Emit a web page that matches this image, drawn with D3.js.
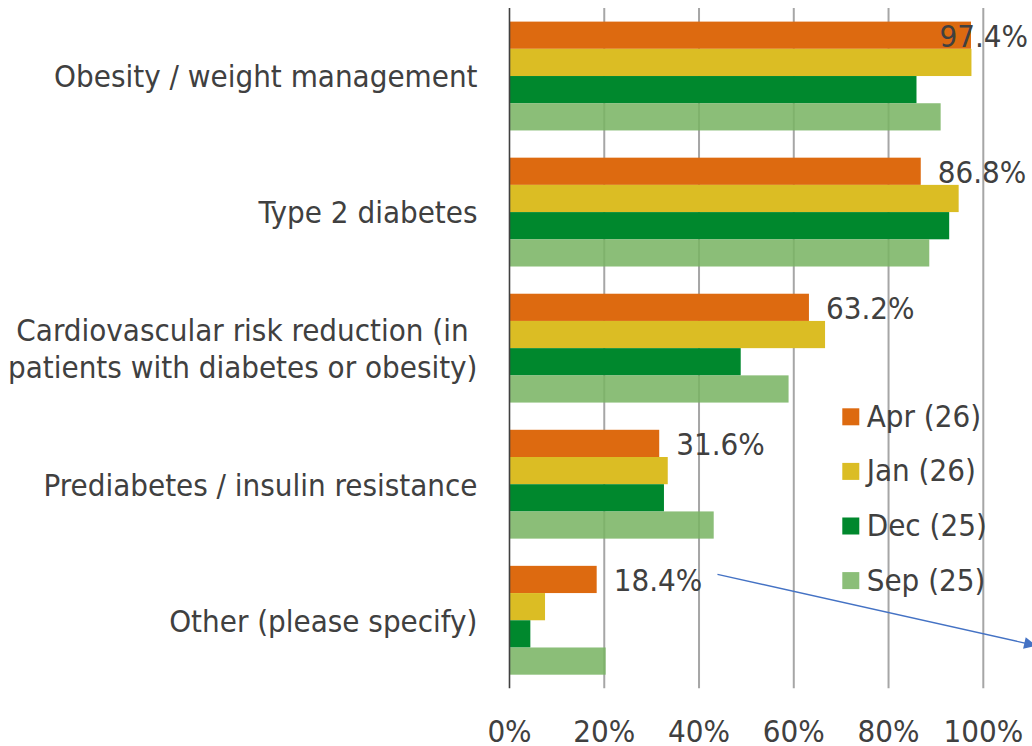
<!DOCTYPE html>
<html>
<head>
<meta charset="utf-8">
<script src="https://cdn.jsdelivr.net/npm/d3@7/dist/d3.min.js"></script>
<style>
  html, body { margin: 0; padding: 0; background: #ffffff; }
  svg { display: block; }
</style>
</head>
<body>
<svg id="chart" width="1032" height="746"></svg>
<script>
// ---------------- data ----------------
const categories = [
  "Obesity / weight management",
  "Type 2 diabetes",
  "Cardiovascular risk reduction (in patients with diabetes or obesity)",
  "Prediabetes / insulin resistance",
  "Other (please specify)"
];
const categoryLines = [
  ["Obesity / weight management"],
  ["Type 2 diabetes"],
  ["Cardiovascular risk reduction (in ", "patients with diabetes or obesity)"],
  ["Prediabetes / insulin resistance"],
  ["Other (please specify)"]
];
const seriesNames = ["Apr (26)", "Jan (26)", "Dec (25)", "Sep (25)"];
const aprValues = [97.4, 86.8, 63.2, 31.6, 18.4];
const janValues = [97.5, 94.8, 66.6, 33.4, 7.5];
const decValues = [85.9, 92.8, 48.8, 32.6, 4.4];
const sepValues = [91.0, 88.6, 58.9, 43.1, 20.3];
const tickValues = [0, 20, 40, 60, 80, 100];

// ---------------- style ----------------
const colors = ["#DD6A10", "#DBBD24", "#00882D", "#79B463"];
const opacities = [1, 1, 1, 0.865];
const textColor = "#404040";
const W = 1032, H = 746;
const plot = { left: 509.5, right: 983.3, top: 8, bottom: 688.3 };

const svg = d3.select("#chart");

// ---------------- font choice ----------------
function measure(family, size, str, stretch) {
  const t = svg.append("text").attr("font-family", family).attr("font-size", size)
    .style("font-stretch", stretch || "normal").text(str);
  const w = t.node().getComputedTextLength();
  t.remove();
  return w;
}
const probe = "Obesity / weight management";
const wReg = measure("DejaVu Sans", 31, probe);
const wCond = measure("'DejaVu Sans Condensed'", 31, probe);
const wStretch = measure("DejaVu Sans", 31, probe, "condensed");
let FONT = "DejaVu Sans", STRETCH = "normal", squeeze = 1;
if (wCond < wReg * 0.95) { FONT = "'DejaVu Sans Condensed', 'DejaVu Sans'"; }
else if (wStretch < wReg * 0.95) { STRETCH = "condensed"; }
else { squeeze = 0.9; }
const FS = 31;

function styleText(sel) {
  sel.attr("font-family", FONT).attr("font-size", FS).style("font-stretch", STRETCH)
     .attr("fill", textColor).style("white-space", "pre");
  if (squeeze !== 1) {
    sel.each(function () {
      const w = this.getComputedTextLength();
      d3.select(this).attr("textLength", w * squeeze).attr("lengthAdjust", "spacingAndGlyphs");
    });
  }
  return sel;
}

// ---------------- scales ----------------
const x = d3.scaleLinear().domain([0, 100]).range([plot.left, plot.right]);
const y = d3.scaleBand().domain(categories).range([plot.top, plot.bottom])
  .paddingInner(0.2).paddingOuter(0.1);
const ySub = d3.scaleBand().domain(seriesNames).range([0, y.bandwidth()]).padding(0);

const seriesValues = [aprValues, janValues, decValues, sepValues];
const rows = [];
categories.forEach((c, ci) => {
  seriesNames.forEach((s, si) => {
    rows.push({ cat: c, series: s, si: si, value: seriesValues[si][ci] });
  });
});

// ---------------- gridlines ----------------
svg.append("g").selectAll("line").data(tickValues.filter(t => t > 0)).join("line")
  .attr("x1", d => x(d)).attr("x2", d => x(d))
  .attr("y1", plot.top).attr("y2", plot.bottom)
  .attr("stroke", "#a6a6a6").attr("stroke-width", 2);

// ---------------- bars ----------------
svg.append("g").selectAll("rect").data(rows).join("rect")
  .attr("x", x(0))
  .attr("y", d => y(d.cat) + ySub(d.series))
  .attr("width", d => x(d.value) - x(0))
  .attr("height", ySub.bandwidth())
  .attr("fill", d => colors[d.si])
  .attr("fill-opacity", d => opacities[d.si]);

// ---------------- axis line ----------------
svg.append("line")
  .attr("x1", x(0)).attr("x2", x(0))
  .attr("y1", plot.top).attr("y2", plot.bottom)
  .attr("stroke", "#404040").attr("stroke-width", 1.6);

// ---------------- x tick labels ----------------
svg.append("g").selectAll("text").data(tickValues).join("text")
  .attr("x", d => x(d)).attr("y", 741.7)
  .attr("text-anchor", "middle")
  .text(d => d + "%")
  .call(styleText);

// ---------------- category labels ----------------
const lineGap = 37.3;
categories.forEach((c, ci) => {
  const lines = categoryLines[ci];
  const cy = y(c) + y.bandwidth() / 2;
  const base0 = cy + 0.365 * FS - (lines.length - 1) * lineGap / 2;
  svg.append("g").selectAll("text").data(lines).join("text")
    .attr("x", 477.5)
    .attr("y", (d, i) => base0 + i * lineGap)
    .attr("text-anchor", "end")
    .text(d => d)
    .call(styleText);
});

// ---------------- data labels (Apr series) ----------------
const fmt = v => d3.format(".1f")(v) + "%";
svg.append("g").selectAll("text").data(categories).join("text")
  .attr("y", c => y(c) + ySub(seriesNames[0]) + ySub.bandwidth() / 2 + 0.365 * FS)
  .attr("text-anchor", "start")
  .text((c, i) => fmt(aprValues[i]))
  .call(styleText)
  .each(function (c, i) {
    const w = this.getBBox().width;
    const px = Math.min(x(aprValues[i]) + 17, 1028 - w);
    d3.select(this).attr("x", px);
  });

// ---------------- legend ----------------
const legend = svg.append("g");
const legStep = 54.6;
seriesNames.forEach((s, i) => {
  legend.append("rect")
    .attr("x", 842.3).attr("y", 408.3 + i * legStep)
    .attr("width", 17).attr("height", 17)
    .attr("fill", colors[i]).attr("fill-opacity", opacities[i] === 1 ? 1 : 1)
    .attr("fill", i === 3 ? "#8BBE78" : colors[i]);
  legend.append("text")
    .attr("x", 866.7).attr("y", 426.7 + i * legStep)
    .text(s)
    .call(styleText);
});

// ---------------- annotation arrow ----------------
const defs = svg.append("defs");
defs.append("marker")
  .attr("id", "arrowhead")
  .attr("viewBox", "0 0 10 10")
  .attr("refX", 9).attr("refY", 5)
  .attr("markerUnits", "userSpaceOnUse")
  .attr("markerWidth", 13).attr("markerHeight", 12)
  .attr("orient", "auto")
  .append("path").attr("d", "M0,0 L10,5 L0,10 Z").attr("fill", "#4472C4");

const otherCat = categories[4];
svg.append("line")
  .attr("x1", x(43.9)).attr("y1", y(otherCat) + 8.5)
  .attr("x2", x(110.9)).attr("y2", y(otherCat) + 79.5)
  .attr("stroke", "#4472C4").attr("stroke-width", 1.4)
  .attr("marker-end", "url(#arrowhead)");
</script>
</body>
</html>
